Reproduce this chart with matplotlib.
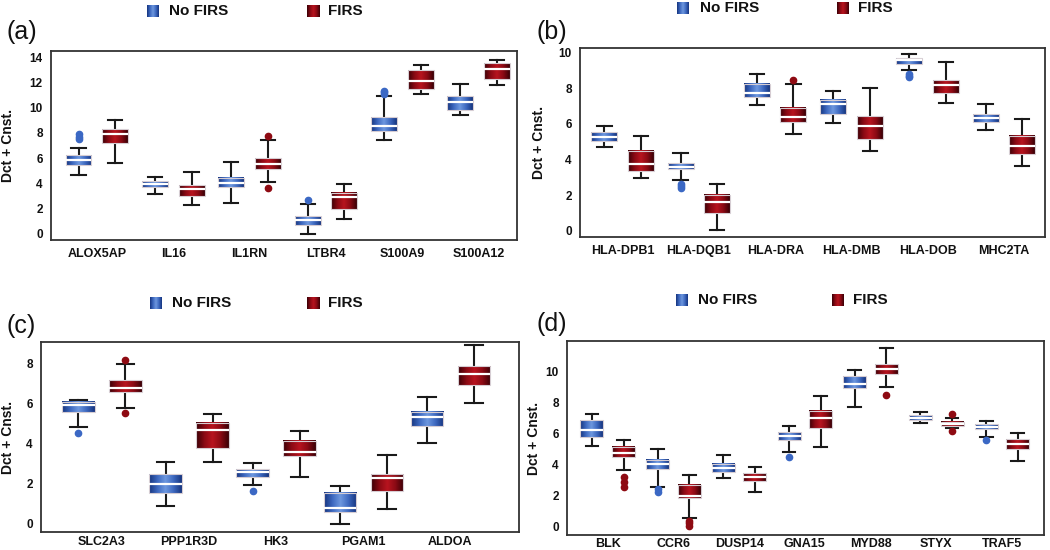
import numpy as np
import matplotlib
matplotlib.use("Agg")
import matplotlib.pyplot as plt
from matplotlib.colors import LinearSegmentedColormap

plt.rcParams['font.family'] = ['Liberation Sans', 'DejaVu Sans']

# box stats: [whislo, q1, median, q3, whishi]
a_genes = ["ALOX5AP", "IL16", "IL1RN", "LTBR4", "S100A9", "S100A12"]
a_no = [[4.65, 5.49, 5.84, 6.23, 6.81], [3.12, 3.70, 3.91, 4.17, 4.49],
        [2.40, 3.70, 4.04, 4.44, 5.70], [-0.05, 0.71, 1.08, 1.40, 2.32],
        [7.40, 8.14, 8.53, 9.24, 10.90], [9.43, 9.85, 10.49, 10.96, 11.91]]
a_no_out = [[7.5, 7.7, 7.9], [], [], [2.64], [11.1, 11.25, 11.35], []]
a_firs = [[5.63, 7.21, 7.95, 8.32, 9.00], [2.25, 2.98, 3.51, 3.83, 4.89],
          [4.09, 5.15, 5.55, 6.00, 7.40], [1.14, 1.93, 2.93, 3.20, 3.96],
          [11.09, 11.52, 12.15, 12.97, 13.36], [11.83, 12.31, 13.10, 13.52, 13.81]]
a_firs_out = [[], [], [3.65, 7.79], [], [], []]

b_genes = ["HLA-DPB1", "HLA-DQB1", "HLA-DRA", "HLA-DMB", "HLA-DOB", "MHC2TA"]
b_no = [[4.68, 5.06, 5.28, 5.52, 5.88], [2.85, 3.46, 3.60, 3.78, 4.38],
        [7.04, 7.49, 7.72, 8.22, 8.80], [6.07, 6.55, 7.10, 7.34, 7.85],
        [8.99, 9.36, 9.55, 9.68, 9.93], [5.66, 6.10, 6.35, 6.54, 7.10]]
b_no_out = [[], [2.4, 2.5, 2.6], [], [], [8.6, 8.7, 8.8], []]
b_firs = [[2.94, 3.35, 3.73, 4.48, 5.34], [0.07, 0.97, 1.59, 2.00, 2.60],
          [5.43, 6.09, 6.40, 6.91, 8.22], [4.48, 5.17, 5.88, 6.44, 8.00],
          [7.19, 7.75, 8.18, 8.46, 9.44], [3.65, 4.31, 4.78, 5.34, 6.25]]
b_firs_out = [[], [], [8.46], [], [], []]

c_genes = ["SLC2A3", "PPP1R3D", "HK3", "PGAM1", "ALDOA"]
c_no = [[4.81, 5.56, 5.93, 6.10, 6.18], [0.84, 1.51, 1.98, 2.45, 3.08],
        [1.90, 2.32, 2.54, 2.71, 2.99], [-0.07, 0.55, 0.77, 1.51, 1.85],
        [4.03, 4.89, 5.34, 5.60, 6.35]]
c_no_out = [[4.5], [], [1.6], [], []]
c_firs = [[5.80, 6.60, 6.77, 7.16, 7.98], [3.08, 3.75, 4.67, 5.04, 5.46],
          [2.32, 3.36, 3.58, 4.12, 4.62], [0.69, 1.61, 2.24, 2.44, 3.41],
          [6.02, 6.94, 7.50, 7.87, 8.96]]
c_firs_out = [[8.2, 5.55], [], [], [], []]

d_genes = ["BLK", "CCR6", "DUSP14", "GNA15", "MYD88", "STYX", "TRAF5"]
d_no = [[5.18, 5.76, 6.19, 6.84, 7.27], [2.54, 3.66, 4.04, 4.26, 4.97],
        [3.12, 3.46, 3.76, 4.00, 4.62], [4.80, 5.59, 5.83, 6.09, 6.47],
        [7.70, 8.92, 9.20, 9.68, 10.06], [6.69, 6.88, 7.01, 7.16, 7.38],
        [5.76, 6.26, 6.41, 6.58, 6.77]]
d_no_out = [[], [2.39, 2.22], [], [4.43], [], [], [5.55]]
d_firs = [[3.61, 4.47, 4.75, 5.12, 5.59], [0.49, 1.78, 1.96, 2.65, 3.29],
          [2.22, 2.90, 3.14, 3.40, 3.83], [5.12, 6.34, 7.01, 7.44, 8.43],
          [8.99, 9.85, 10.17, 10.49, 11.53], [6.34, 6.47, 6.62, 6.73, 6.99],
          [4.19, 5.01, 5.33, 5.61, 6.02]]
d_firs_out = [[3.18, 2.86, 2.54], [0.34, 0.17, 0.0], [], [], [8.45], [7.23, 6.15], []]

blue_map = LinearSegmentedColormap.from_list("b", ["#16357f", "#3d68bf", "#6e98df", "#3d68bf", "#16357f"])
red_map = LinearSegmentedColormap.from_list("r", ["#3a0006", "#8a0a14", "#b8141f", "#8a0a14", "#3a0006"])
grad = np.tile(np.linspace(0, 1, 64), (2, 1))

W, H = 1050, 550
fig = plt.figure(figsize=(10.5, 5.5), dpi=100)


def px_rect(l, r, t, b):
    return [l / W, 1 - b / H, (r - l) / W, (b - t) / H]


def draw_box(ax, pos, row, out, w, cmap, fcol):
    st = dict(whislo=row[0], q1=row[1], med=row[2], q3=row[3], whishi=row[4], fliers=out)
    ax.bxp([st], positions=[pos], widths=w, patch_artist=True, capwidths=w * 0.55,
           boxprops=dict(facecolor='none', edgecolor='#d6cdd3', lw=0.8, zorder=3),
           medianprops=dict(color='white', lw=1.6, zorder=4),
           whiskerprops=dict(color='#1a1a1a', lw=1.5),
           capprops=dict(color='#1a1a1a', lw=1.5),
           flierprops=dict(marker='o', markerfacecolor=fcol, markeredgecolor=fcol, markersize=4.5))
    ax.imshow(grad, cmap=cmap, extent=[pos - w / 2, pos + w / 2, row[1], row[3]],
              aspect='auto', zorder=2, interpolation='bilinear')


def legend_at(x_blue, x_red, tx_blue, tx_red, y_top):
    for xp, cmap in [(x_blue, blue_map), (x_red, red_map)]:
        lax = fig.add_axes(px_rect(xp, xp + 12, y_top, y_top + 12))
        lax.imshow(grad, cmap=cmap, aspect='auto', interpolation='bilinear')
        lax.axis('off')
    fig.text(tx_blue / W, 1 - (y_top + 6) / H, "No FIRS", fontsize=11, fontweight='bold',
             va='center', ha='left', color='#111111')
    fig.text(tx_red / W, 1 - (y_top + 6) / H, "FIRS", fontsize=11, fontweight='bold',
             va='center', ha='left', color='#111111')


panels = [
    dict(genes=a_genes, no=a_no, no_out=a_no_out, firs=a_firs, firs_out=a_firs_out,
         rect=(51, 517, 51, 240), xlim=(-0.6, 5.5), ylim=(-0.5, 14.5), yticks=range(0, 15, 2),
         off=0.24, w=0.34, lab="(a)", labpos=(7, 32), ylx=-0.078, xpad=6,
         leg=(147, 307, 169, 328, 5)),
    dict(genes=b_genes, no=b_no, no_out=b_no_out, firs=b_firs, firs_out=b_firs_out,
         rect=(580, 1045, 48, 237), xlim=(-0.56, 5.54), ylim=(-0.35, 10.25), yticks=range(0, 11, 2),
         off=0.24, w=0.34, lab="(b)", labpos=(536, 32), ylx=-0.073, xpad=6,
         leg=(677, 837, 700, 858, 2)),
    dict(genes=c_genes, no=c_no, no_out=c_no_out, firs=c_firs, firs_out=c_firs_out,
         rect=(41, 519, 342, 532), xlim=(-0.7, 4.79), ylim=(-0.45, 9.09), yticks=range(0, 9, 2),
         off=0.27, w=0.37, lab="(c)", labpos=(7, 326), ylx=-0.054, xpad=3,
         leg=(150, 307, 172, 328, 297)),
    dict(genes=d_genes, no=d_no, no_out=d_no_out, firs=d_firs, firs_out=d_firs_out,
         rect=(567, 1044, 341, 535), xlim=(-0.62, 6.64), ylim=(-0.58, 11.96), yticks=range(0, 11, 2),
         off=0.24, w=0.35, lab="(d)", labpos=(536, 324), ylx=-0.055, xpad=2,
         leg=(676, 832, 698, 853, 294)),
]

for p in panels:
    ax = fig.add_axes(px_rect(*p["rect"]))
    for i, g in enumerate(p["genes"]):
        draw_box(ax, i - p["off"], p["no"][i], p["no_out"][i], p["w"], blue_map, "#3b68c4")
        draw_box(ax, i + p["off"], p["firs"][i], p["firs_out"][i], p["w"], red_map, "#8e0a12")
    ax.set_xlim(*p["xlim"])
    ax.set_ylim(*p["ylim"])
    ax.set_xticks(range(len(p["genes"])))
    ax.set_xticklabels(p["genes"], fontsize=9, fontweight='bold')
    ax.set_yticks(list(p["yticks"]))
    ax.set_yticklabels([str(v) for v in p["yticks"]], fontsize=8.5, fontweight='bold')
    ax.tick_params(length=0, colors='#111111')
    ax.tick_params(axis='y', pad=6)
    ax.tick_params(axis='x', pad=p["xpad"])
    for s in ax.spines.values():
        s.set_color('#333333')
        s.set_linewidth(1.3)
    ax.set_ylabel("Dct + Cnst.", fontsize=10, fontweight='bold', color='#111111')
    ax.yaxis.set_label_coords(p["ylx"], 0.5)
    fig.text(p["labpos"][0] / W, 1 - p["labpos"][1] / H, p["lab"], fontsize=18,
             va='center', ha='left', color='#111111')
    legend_at(*p["leg"])

fig.savefig("out.png", dpi=100, facecolor='white')
